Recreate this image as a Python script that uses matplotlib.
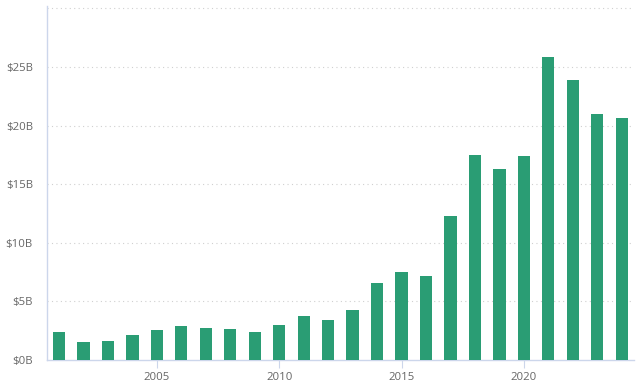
import matplotlib
matplotlib.use("Agg")
import matplotlib.pyplot as plt

years = list(range(2001, 2025))
values = [2.41, 1.56, 1.64, 2.15, 2.58, 2.92, 2.75, 2.67, 2.41, 3.0, 3.77, 3.43,
          4.28, 6.58, 7.52, 7.18, 12.28, 17.48, 16.28, 17.39, 25.86, 23.87, 20.97, 20.63]
ytick_vals = [0, 5, 10, 15, 20, 25]
ytick_labels = ["$0B", "$5B", "$10B", "$15B", "$20B", "$25B"]
xtick_vals = [2005, 2010, 2015, 2020]

plt.rcParams['font.family'] = ['Open Sans', 'DejaVu Sans']

fig = plt.figure(figsize=(6.41, 3.89), dpi=100)
ax = fig.add_axes([0.073, 0.0746, 0.916, 0.91])

ax.bar(years, values, width=0.5, color='#2a9d74', zorder=3)

ax.set_xlim(2000.5, 2024.5)
ax.set_ylim(0, 30.2)

for v in ytick_vals[1:] + [30]:
    ax.axhline(v, color='#d0d0d0', linestyle=(0, (1, 3)), linewidth=0.8, zorder=1)

ax.set_yticks(ytick_vals)
ax.set_yticklabels(ytick_labels)
ax.set_xticks(xtick_vals)
ax.set_xticklabels([str(x) for x in xtick_vals])

for s in ['top', 'right']:
    ax.spines[s].set_visible(False)
for s in ['left', 'bottom']:
    ax.spines[s].set_color('#ccd6eb')
    ax.spines[s].set_linewidth(1)

ax.tick_params(axis='y', length=0, pad=10, labelsize=8.2, labelcolor='#666666')
ax.tick_params(axis='x', length=6, width=0.8, color='#ccd6eb', pad=3, labelsize=8.2, labelcolor='#666666')

fig.savefig("out.png", dpi=100)
